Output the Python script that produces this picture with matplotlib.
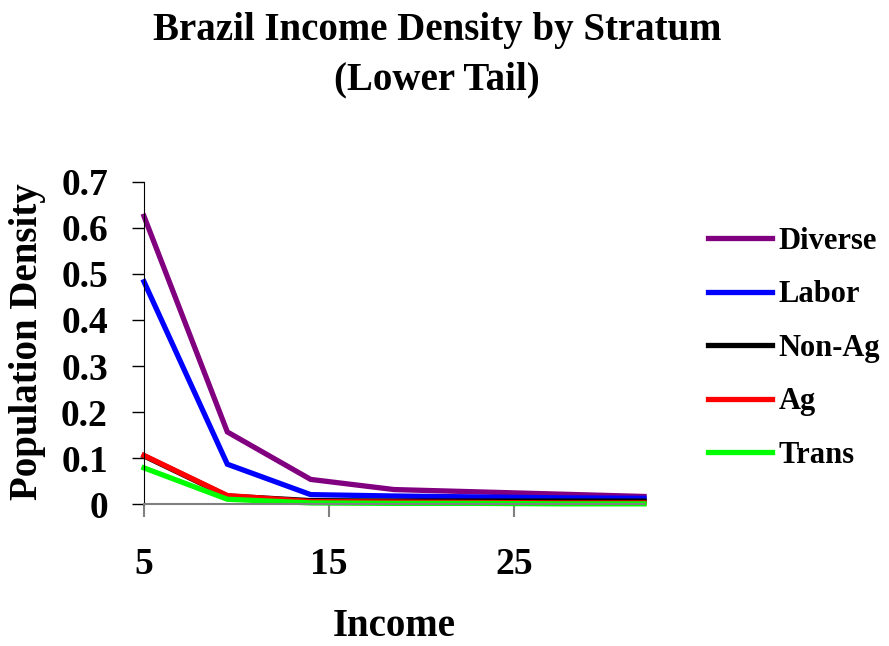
import matplotlib
matplotlib.use("Agg")
import matplotlib.pyplot as plt

plt.rcParams['font.family'] = ['Liberation Serif', 'DejaVu Serif']
plt.rcParams['font.weight'] = 'bold'

income = [5, 9.5, 14, 18.5, 23, 27.5, 32]
diverse = [0.625, 0.157, 0.054, 0.032, 0.027, 0.022, 0.017]
labor = [0.483, 0.087, 0.021, 0.018, 0.016, 0.014, 0.013]
non_ag = [0.105, 0.018, 0.008, 0.007, 0.007, 0.007, 0.007]
ag = [0.106, 0.019, 0.006, 0.005, 0.004, 0.003, 0.003]
trans = [0.079, 0.011, 0.003, 0.002, 0.002, 0.001, 0.001]

series = [("Diverse", diverse, "#800080"),
          ("Labor", labor, "#0000FF"),
          ("Non-Ag", non_ag, "#000000"),
          ("Ag", ag, "#FF0000"),
          ("Trans", trans, "#00FF00")]

fig = plt.figure(figsize=(8.89, 6.46), dpi=100)
ax = fig.add_axes([144 / 889, 1 - 504.3 / 646, 500 / 889, 322.6 / 646])

for name, vals, col in series:
    ax.plot(income, vals, color=col, lw=3.8, label=name, clip_on=False, solid_joinstyle='miter')

ax.set_xlim(5, 32)
ax.set_ylim(0, 0.7)
ax.set_xticks([5, 15, 25])
ax.set_yticks([0, 0.1, 0.2, 0.3, 0.4, 0.5, 0.6, 0.7])
ax.set_yticklabels(["0", "0.1", "0.2", "0.3", "0.4", "0.5", "0.6", "0.7"])

ax.spines['top'].set_visible(False)
ax.spines['right'].set_visible(False)
ax.spines['left'].set_color('black')
ax.spines['bottom'].set_color('#808080')
ax.spines['bottom'].set_linewidth(1.5)
ax.tick_params(axis='y', direction='out', length=9, width=1, color='black', pad=17, labelsize=27)
ax.tick_params(axis='x', direction='out', length=9, width=1.5, color='#808080', pad=22, labelsize=27)

fig.text(437 / 889, 1 - 55 / 646, "Brazil Income Density by Stratum\n(Lower Tail)",
         ha='center', va='center', fontsize=28, fontweight='bold', linespacing=1.45)
fig.text(28 / 889, 1 - 342 / 646, "Population Density", rotation=90,
         ha='center', va='center', fontsize=28, fontweight='bold')
fig.text(394 / 889, 1 - 626 / 646, "Income", ha='center', va='center',
         fontsize=28, fontweight='bold')

fig.legend(loc='upper left', bbox_to_anchor=(708 / 889, 1 - 227 / 646), frameon=False,
           fontsize=22, handlelength=2.1, handletextpad=0.2, labelspacing=0.8,
           borderpad=0, borderaxespad=0)

fig.savefig("out.png", dpi=100)
